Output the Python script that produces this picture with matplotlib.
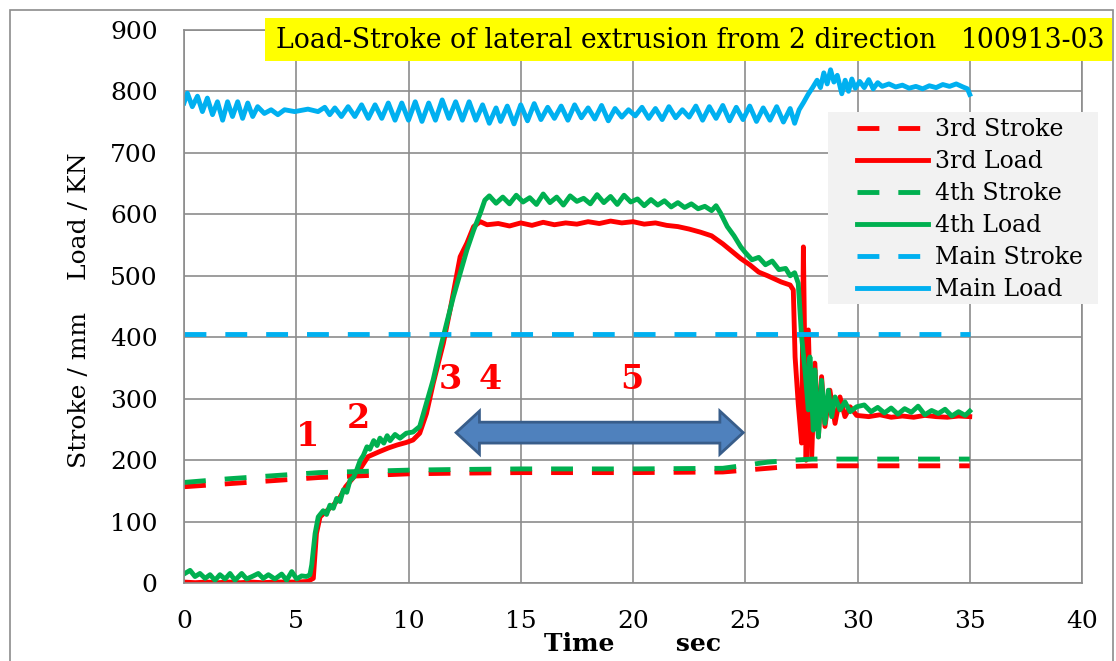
import matplotlib
matplotlib.use("Agg")
import matplotlib.pyplot as plt
from matplotlib.patches import Rectangle, Polygon

plt.rcParams['font.family'] = ['DejaVu Serif']

# ---------------- data ----------------
x_ticks = [0, 5, 10, 15, 20, 25, 30, 35, 40]
y_ticks = [0, 100, 200, 300, 400, 500, 600, 700, 800, 900]

# stroke traces (mm)
stroke_t = [0, 2, 4, 6, 8, 10, 12, 15, 20, 24, 25, 26, 27, 28, 30, 35]
stroke3_v = [157, 162, 167, 172, 175, 178, 179, 180, 180, 181, 184, 187, 190, 191, 191, 191]
stroke4_v = [164, 170, 175, 180, 182, 184, 185, 186, 186, 187, 192, 197, 200, 202, 202, 202]
main_stroke_t = [0, 35]
main_stroke_v = [405, 405]

# 3rd cylinder load (kN)
load3_t = [0, 0.5, 1.0, 1.5, 2.0, 2.5, 3.0, 3.5, 4.0, 4.5, 5.0, 5.5, 5.76,
           5.9, 6.06, 6.3, 6.65, 6.95, 7.2, 7.5, 7.9, 8.2, 8.7, 9.1, 9.5, 9.9,
           10.2, 10.5, 10.8, 11.1, 11.55, 11.85, 12.3, 12.6, 12.9, 13.2, 13.5,
           14.0, 14.5, 15.0, 15.5, 16.0, 16.5, 17.0, 17.5, 18.0, 18.5, 19.0,
           19.5, 20.0, 20.5, 21.0, 21.5, 22.0, 22.5, 23.0, 23.5, 24.0, 24.4,
           24.8, 25.2, 25.6, 26.0, 26.6, 27.0, 27.14, 27.22, 27.36, 27.51,
           27.59, 27.71, 27.81, 27.96, 28.1, 28.26, 28.4, 28.55, 28.77, 29.0,
           29.22, 29.44, 29.67, 29.96, 30.5, 31.0, 31.5, 32.0, 32.5, 33.0,
           33.5, 34.0, 34.5, 35.0]
load3_v = [2, 1, 2, 1, 2, 1, 2, 1, 2, 2, 2, 3, 8,
           81, 108, 116, 127, 140, 157, 170, 189, 206, 214, 220, 225, 229,
           233, 244, 276, 325, 390, 444, 531, 553, 580, 588, 583,
           585, 581, 586, 582, 587, 583, 586, 584, 588, 585, 589,
           586, 588, 584, 586, 582, 580, 576, 571, 565, 552, 540,
           528, 518, 506, 500, 490, 485, 477, 368, 292, 228,
           547, 200, 412, 206, 358, 238, 336, 255, 314, 260,
           303, 271, 287, 273, 271, 274, 270, 272, 270, 273,
           271, 270, 272, 271]

# 4th cylinder load (kN)
load4_t = [0.04, 0.27, 0.49, 0.71, 0.94, 1.16, 1.38, 1.6, 1.83, 2.05, 2.27,
           2.57, 2.79, 3.09, 3.31, 3.53, 3.76, 4.05, 4.35, 4.57, 4.8, 5.02,
           5.24, 5.46, 5.61, 5.69, 5.84, 5.98, 6.2, 6.35, 6.5, 6.65, 6.8, 6.95,
           7.1, 7.25, 7.4, 7.55, 7.69, 7.85, 7.99, 8.15, 8.28, 8.45, 8.6, 8.73,
           8.9, 9.05, 9.18, 9.4, 9.62, 9.9, 10.2, 10.5, 10.8, 11.1, 11.4, 11.7,
           12.0, 12.3, 12.6, 12.9, 13.2, 13.4, 13.6, 13.9, 14.2, 14.5, 14.8,
           15.1, 15.4, 15.7, 16.0, 16.3, 16.6, 16.9, 17.2, 17.5, 17.8, 18.1,
           18.4, 18.7, 19.0, 19.3, 19.6, 19.9, 20.2, 20.5, 20.8, 21.1, 21.4,
           21.7, 22.0, 22.3, 22.6, 22.9, 23.2, 23.5, 23.7, 23.9, 24.2, 24.5,
           24.8, 25.0, 25.3, 25.6, 25.9, 26.2, 26.5, 26.8, 27.0, 27.2, 27.36,
           27.51, 27.66, 27.81, 27.88, 28.03, 28.1, 28.26, 28.4, 28.55, 28.7,
           28.85, 29.0, 29.22, 29.44, 29.67, 29.96, 30.3, 30.6, 30.9, 31.2,
           31.5, 31.8, 32.1, 32.4, 32.7, 33.0, 33.3, 33.6, 33.9, 34.2, 34.5,
           34.8, 35.0]
load4_v = [16, 21, 11, 16, 8, 14, 5, 14, 7, 16, 5,
           16, 7, 12, 16, 8, 14, 7, 15, 5, 19, 7,
           12, 11, 14, 30, 81, 108, 118, 112, 127, 122, 138, 133,
           152, 148, 168, 172, 184, 200, 208, 222, 218, 232, 224, 236,
           228, 240, 232, 242, 236, 244, 246, 255, 293, 331, 379, 423,
           466, 504, 542, 574, 602, 623, 630, 618, 628, 617, 631,
           620, 627, 616, 633, 619, 628, 615, 630, 621, 626, 617,
           632, 619, 629, 616, 631, 620, 625, 614, 624, 615, 622,
           612, 619, 611, 617, 609, 613, 606, 614, 602, 580, 565,
           547, 538, 526, 530, 518, 524, 510, 512, 500, 505, 488,
           401, 347, 282, 368, 249, 347, 238, 330, 260, 314,
           271, 303, 282, 295, 279, 287, 290, 279, 286, 277,
           285, 275, 284, 278, 288, 274, 281, 276, 283, 272, 279,
           273, 280]

# main cylinder load (kN)
main_load_t = [0.0, 0.15, 0.37, 0.6, 0.82, 1.04, 1.27, 1.49, 1.72, 1.94, 2.16,
               2.39, 2.61, 2.84, 3.06, 3.28, 3.58, 3.88, 4.18, 4.48, 4.93, 5.52,
               5.97, 6.27, 6.49, 6.72, 7.01, 7.31, 7.61, 7.91, 8.21, 8.51, 8.81,
               9.1, 9.4, 9.7, 10.0, 10.3, 10.6, 10.9, 11.2, 11.5, 11.8, 12.1,
               12.4, 12.7, 13.0, 13.3, 13.6, 13.9, 14.1,
               14.4, 14.7, 15.0, 15.3, 15.6, 15.9, 16.2, 16.5, 16.8, 17.1, 17.4,
               17.7, 18.0, 18.3, 18.6, 18.9, 19.2, 19.5, 19.8, 20.1, 20.4, 20.7,
               21.0, 21.3, 21.6, 21.9, 22.2, 22.5, 22.8, 23.1, 23.4, 23.7, 24.0,
               24.3, 24.6, 24.9, 25.2, 25.5, 25.8, 26.1, 26.4, 26.7, 27.0,
               27.2, 27.4, 27.6, 27.8, 28.0, 28.2, 28.35, 28.5, 28.65, 28.8,
               28.95, 29.1, 29.3, 29.45, 29.6, 29.75, 29.9, 30.1, 30.3, 30.5,
               30.7, 30.9, 31.1, 31.4, 31.7, 32.0, 32.3, 32.6, 32.9, 33.2, 33.5,
               33.8, 34.1, 34.4, 34.7, 34.9, 35.0]
main_load_v = [781, 797, 775, 792, 767, 789, 762, 783, 753, 783, 759,
               783, 756, 781, 759, 775, 764, 770, 762, 770, 767, 771,
               767, 774, 762, 773, 759, 775, 759, 778, 756, 778, 756,
               781, 753, 781, 753, 783, 751, 781, 753, 786, 756, 783,
               753, 783, 753, 778, 748, 773, 751,
               776, 747, 778, 752, 780, 754, 774, 756, 776, 753, 778,
               757, 773, 755, 777, 752, 772, 758, 770, 760, 774, 756,
               772, 754, 775, 757, 770, 758, 776, 753, 775, 756, 777,
               752, 774, 754, 776, 751, 773, 753, 775, 750, 772,
               748, 770, 782, 795, 806, 818, 806, 830, 812, 835,
               815, 826, 796, 818, 800, 820, 805, 816, 806, 819,
               804, 814, 808, 812, 807, 810, 805, 808, 804, 809, 806,
               811, 808, 812, 807, 804, 795]

# stage markers along the load curves
stage_labels = ["1", "2", "3", "4", "5"]
stage_t = [5.49, 7.77, 11.87, 13.63, 19.94]
stage_v = [238, 268, 331, 331, 332]

# ---------------- figure ----------------
W, H = 1116, 661
fig = plt.figure(figsize=(W / 100, H / 100), dpi=100)
fig.patch.set_facecolor("white")
ax = fig.add_axes([184 / W, 1 - 583.3 / H, (1082 - 184) / W, (583.3 - 29.8) / H])

RED, GREEN, BLUE = "#ff0000", "#00b050", "#00b0f0"
LW = 3.5
DASH = (4.5, 3.9)
GRID = "#8c8c8c"

ax.plot(stroke_t, stroke3_v, color=RED, lw=LW, dashes=DASH, label="3rd Stroke")
ax.plot(load3_t, load3_v, color=RED, lw=LW, label="3rd Load")
ax.plot(stroke_t, stroke4_v, color=GREEN, lw=LW, dashes=DASH, label="4th Stroke")
ax.plot(load4_t, load4_v, color=GREEN, lw=LW, label="4th Load")
ax.plot(main_stroke_t, main_stroke_v, color=BLUE, lw=LW, dashes=DASH, label="Main Stroke")
ax.plot(main_load_t, main_load_v, color=BLUE, lw=LW, label="Main Load")

ax.set_xlim(0, 40)
ax.set_ylim(0, 900)
ax.set_xticks(x_ticks)
ax.set_yticks(y_ticks)
ax.grid(True, color=GRID, lw=1.2)
ax.set_axisbelow(True)
for sp in ax.spines.values():
    sp.set_color(GRID)
    sp.set_linewidth(1.2)
ax.tick_params(length=0, labelsize=18, colors="black")
ax.tick_params(axis="x", pad=19)
ax.tick_params(axis="y", pad=19)

ax.set_ylabel("Stroke / mm    Load / KN", fontsize=18)
ax.yaxis.label.set_va("center")
ax.yaxis.set_label_coords((80 - 184) / 898, (583.3 - 310) / 553.5)
ax.set_xlabel("Time       sec", fontsize=18, fontweight="bold")
ax.xaxis.label.set_va("center")
ax.xaxis.set_label_coords(0.5, (583.3 - 644) / 553.5)

# double-headed arrow spanning the steady stage
ax_x0, ax_x1, ax_yc = 12.12, 24.91, 245
body_h, head_h, head_l = 17, 35, 1.04
arrow_pts = [(ax_x0, ax_yc), (ax_x0 + head_l, ax_yc + head_h),
             (ax_x0 + head_l, ax_yc + body_h), (ax_x1 - head_l, ax_yc + body_h),
             (ax_x1 - head_l, ax_yc + head_h), (ax_x1, ax_yc),
             (ax_x1 - head_l, ax_yc - head_h), (ax_x1 - head_l, ax_yc - body_h),
             (ax_x0 + head_l, ax_yc - body_h), (ax_x0 + head_l, ax_yc - head_h)]
ax.add_patch(Polygon(arrow_pts, closed=True, facecolor="#4f81bd",
                     edgecolor="#385d8a", lw=2, zorder=4))

for lab, tx, ty in zip(stage_labels, stage_t, stage_v):
    ax.text(tx, ty, lab, color=RED, fontsize=24, fontweight="bold",
            ha="center", va="center", zorder=6)

# legend on a light grey panel
ax.add_patch(Rectangle((828 / W, 1 - 304 / H), (1098 - 828) / W, (304 - 112) / H,
                       transform=fig.transFigure, facecolor="#f2f2f2",
                       edgecolor="none", zorder=5, clip_on=False))
leg = ax.legend(loc="upper left", bbox_to_anchor=(857 / W, 1 - 118 / H),
                bbox_transform=fig.transFigure, frameon=False, fontsize=17,
                borderpad=0, borderaxespad=0, handlelength=3.0,
                handletextpad=0.3, labelspacing=0.38)
leg.set_zorder(6)

# title banner
fig.patches.append(Rectangle((265 / W, 1 - 61 / H), (1112 - 265) / W, (61 - 18) / H,
                             transform=fig.transFigure, facecolor="#ffff00",
                             edgecolor="none", zorder=1))
fig.text(276 / W, 1 - 48.5 / H, "Load-Stroke of lateral extrusion from 2 direction",
         fontsize=19.2, ha="left", va="baseline", zorder=2)
fig.text(1105 / W, 1 - 48.5 / H, "100913-03", fontsize=19.2, ha="right",
         va="baseline", zorder=2)

# outer frame
fig.patches.append(Rectangle((10 / W, -0.1), (1113 - 10) / W, 1.1 - 10 / H,
                             transform=fig.transFigure, fill=False,
                             edgecolor="#8c8c8c", lw=1.2, zorder=3))

fig.savefig("out.png", dpi=100)
